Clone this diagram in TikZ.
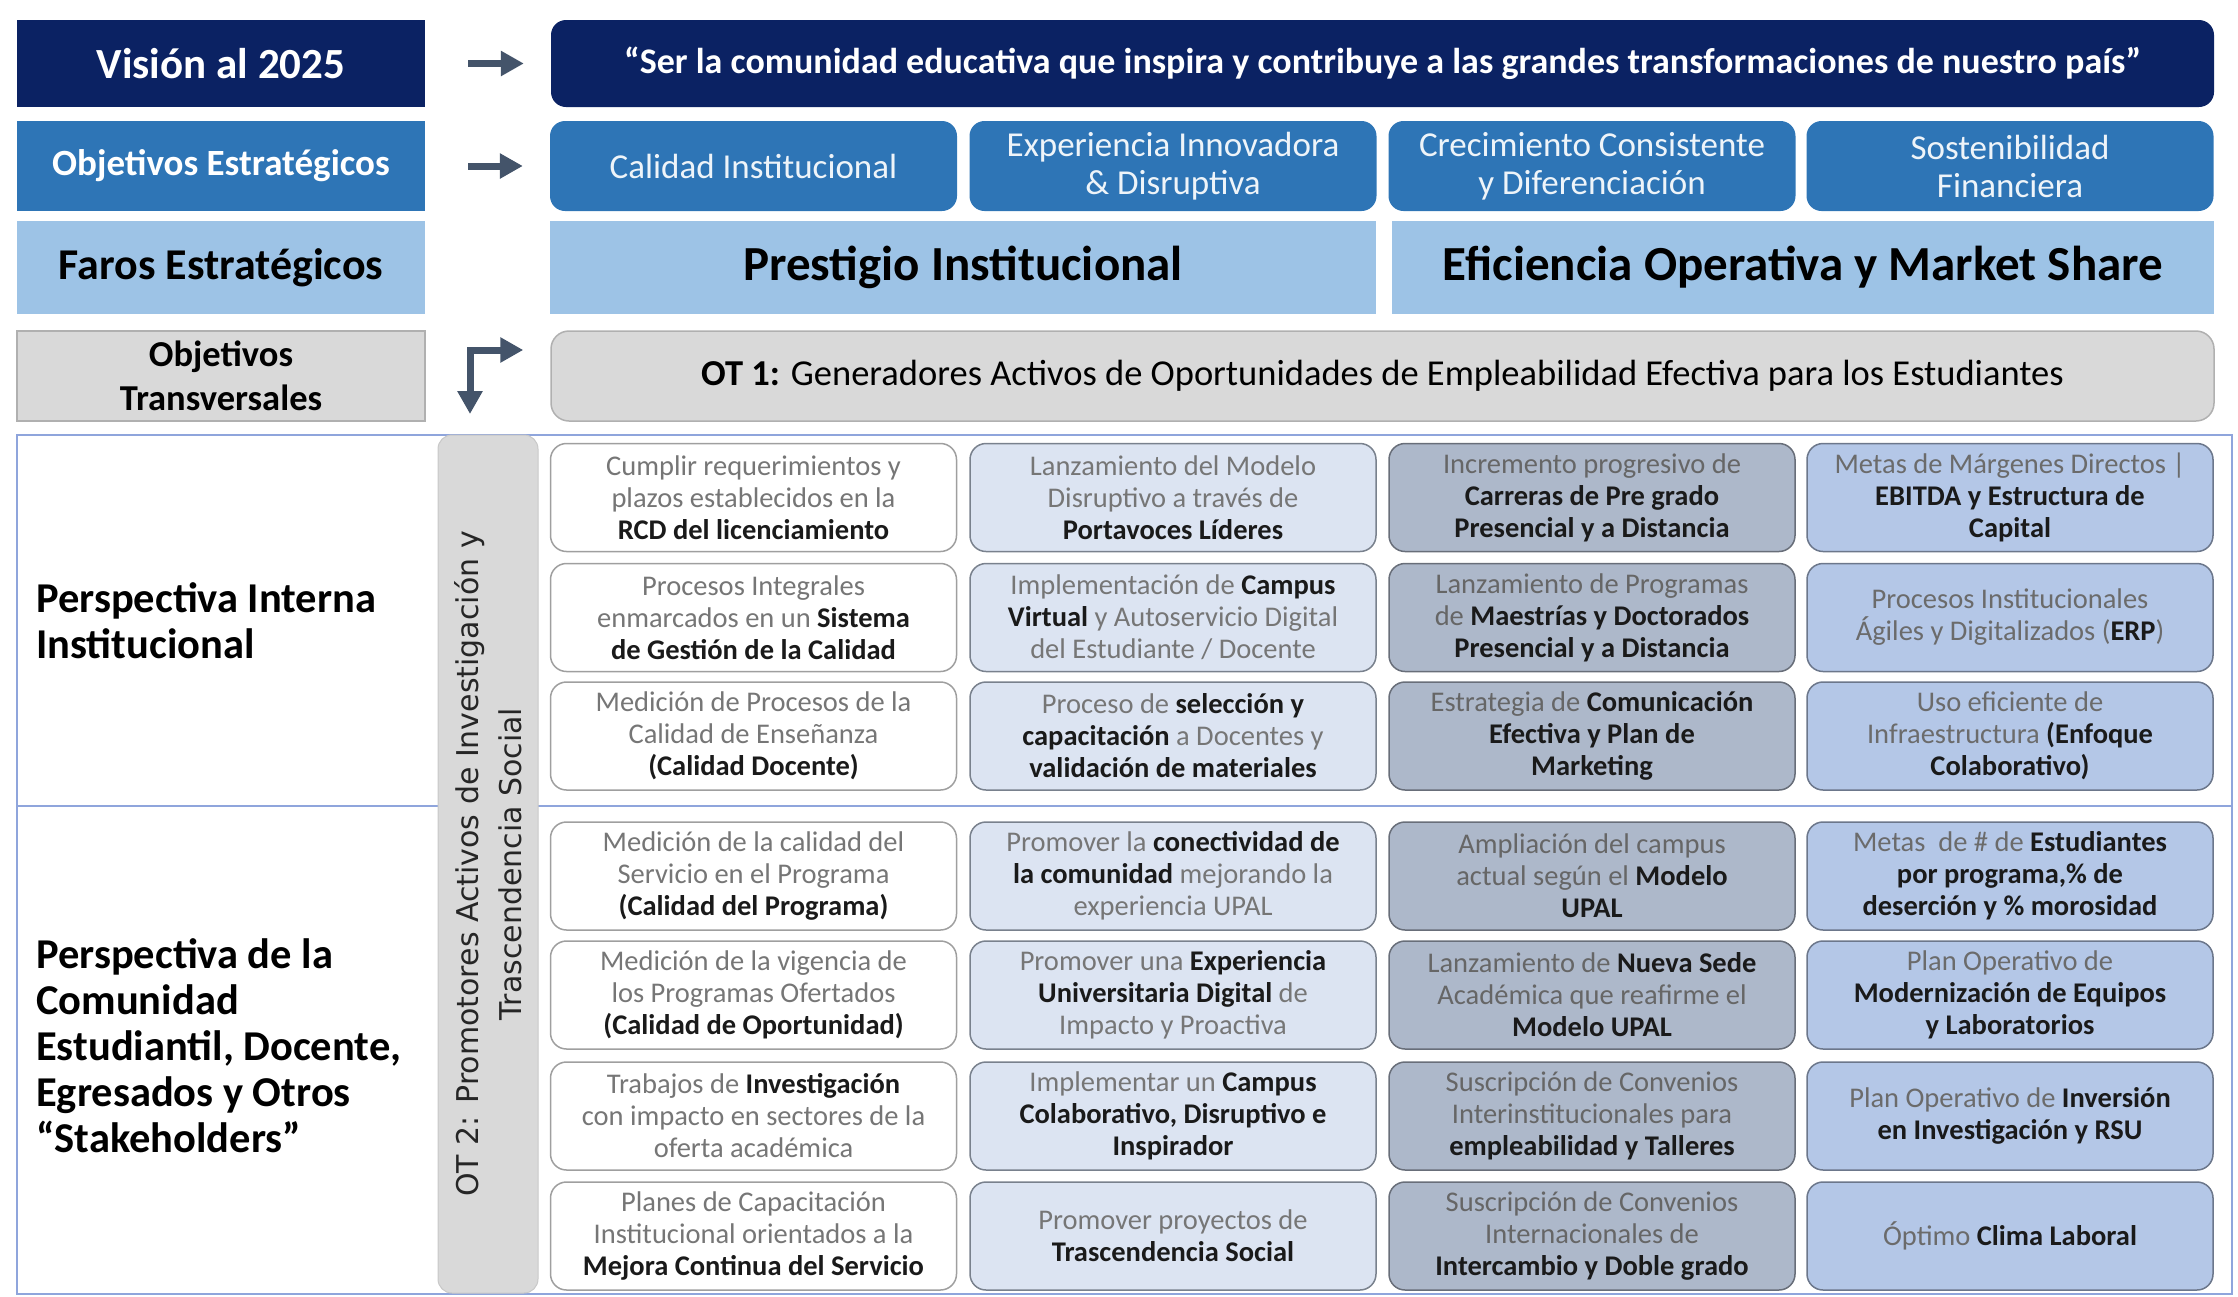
\documentclass[tikz,border=0pt]{standalone}
\usepackage{fontspec}
\setmainfont{Carlito}
\newfontfamily\otfont{DejaVu Sans}
\usetikzlibrary{arrows.meta}

\definecolor{navy}{HTML}{0B2263}
\definecolor{midblue}{HTML}{2E75B6}
\definecolor{skyblue}{HTML}{9DC3E6}
\definecolor{paleGray}{HTML}{D9D9D9}
\definecolor{edgeGray}{HTML}{B0B0B0}
\definecolor{arrowGray}{HTML}{44546A}
\definecolor{frameBlue}{HTML}{8FA5DC}
\definecolor{ink}{HTML}{1A1A1A}
\definecolor{softInk}{HTML}{767676}
\definecolor{cellB}{HTML}{DCE4F2}
\definecolor{cellC}{HTML}{ADB8CA}
\definecolor{cellD}{HTML}{B4C7E7}

\newcommand{\kw}[1]{{\bfseries\color{ink}#1}}

\tikzset{%
    rowlabel/.style={minimum width=408pt, inner sep=0pt, align=center},
    banner/.style={minimum width=1663pt, inner sep=0pt, align=center,
        rounded corners=15pt},
    goal/.style={fill=midblue, text=white!92!midblue, minimum width=407pt,
        minimum height=90pt, inner sep=0pt, align=center, rounded corners=15pt,
        font=\fontsize{35}{38}\selectfont},
    beacon/.style={fill=skyblue, minimum height=93pt, inner sep=0pt,
        font=\fontsize{49}{54}\selectfont\bfseries},
    bigarrow/.style={arrowGray, line width=7pt,
        -{Triangle[length=23pt, width=24pt]}},
    cell/.style={rounded corners=16pt, minimum width=406pt,
        minimum height=108pt, inner sep=0pt, align=center, text=softInk,
        line width=1.5pt, font=\fontsize{28.5}{32}\selectfont},
    cellA/.style={cell, draw=gray!75, fill=white},
    cellB/.style={cell, draw=cellC!70!black, fill=cellB},
    cellC/.style={cell, draw=cellC!60!black, fill=cellC, text=black!60},
    cellD/.style={cell, draw=cellD!60!black, fill=cellD, text=black!58},
    perspective/.style={anchor=west, align=left, inner sep=0pt,
        font=\fontsize{42.5}{46}\selectfont\bfseries}
}

\begin{document}
\begin{tikzpicture}[x=1pt, y=-1pt]

    \useasboundingbox (0, 0) rectangle (2238, 1296);

    %%%%%%%%%%%%
    % Left labels
    \node[rowlabel, fill=navy, text=white, minimum height=87pt,
        font=\fontsize{43}{46}\selectfont\bfseries]
        (vision-lbl) at (221, 63.5) {Visión al 2025};
    \node[rowlabel, fill=midblue, text=white, minimum height=90pt,
        font=\fontsize{37}{40}\selectfont\bfseries]
        (goals-lbl) at (221, 166) {Objetivos Estratégicos};
    \node[rowlabel, fill=skyblue, minimum height=93pt,
        font=\fontsize{44}{48}\selectfont\bfseries]
        (beacons-lbl) at (221, 267.5) {Faros Estratégicos};
    \node[rowlabel, fill=paleGray, draw=edgeGray, line width=1.5pt,
        minimum height=90pt, font=\fontsize{36.5}{44}\selectfont\bfseries]
        (cross-lbl) at (221, 376) {Objetivos\\Transversales};

    %%%%%%%%%%%%
    % Vision
    \node[banner, fill=navy, text=white, minimum height=87pt,
        font=\fontsize{36}{40}\selectfont\bfseries]
        (vision) at (1382.5, 63.5)
        {“Ser la comunidad educativa que inspira y contribuye a las grandes transformaciones de nuestro país”};

    % Strategic goals
    \foreach \i/\xpos/\lab in {%
        1/753.5/{Calidad Institucional},
        2/1173/{Experiencia Innovadora\\\& Disruptiva},
        3/1592/{Crecimiento Consistente\\y Diferenciación},
        4/2010/{Sostenibilidad\\Financiera}%
    }{%
        \node[goal] (goal-\i) at (\xpos, 166) {\lab};
    };

    % Beacons
    \node[beacon, minimum width=826pt] (prestige) at (963, 267.5)
        {Prestigio Institucional};
    \node[beacon, minimum width=822pt] (efficiency) at (1803, 267.5)
        {Eficiencia Operativa y Market Share};

    % OT 1
    \node[banner, fill=paleGray, draw=edgeGray, line width=1.5pt,
        minimum height=90pt, rounded corners=18pt,
        font=\fontsize{36.5}{40}\selectfont]
        (ot1) at (1382.5, 376)
        {\textbf{OT 1:} Generadores Activos de Oportunidades de Empleabilidad Efectiva para los Estudiantes};

    % Arrows
    \draw[bigarrow] ([xshift=43pt] vision-lbl.east) -- ([xshift=-27pt] vision.west);
    \draw[bigarrow] ([xshift=43pt] goals-lbl.east) -- ([xshift=-27pt] goal-1.west);
    \coordinate (bend) at (470, 350);
    \coordinate (bend-down) at (470, 414);
    \draw[bigarrow, line cap=rect] (bend) -- ([xshift=-27pt] ot1.west |- bend);
    \draw[bigarrow] (bend) -- (bend-down);

    %%%%%%%%%%%%
    % Perspectives
    \draw[frameBlue, line width=2.5pt] (17, 435) rectangle (2232, 1294);
    \draw[frameBlue, line width=2.5pt] (17, 806) -- (2232, 806);

    \node[perspective] (internal) at (36, 621)
        {Perspectiva Interna\\Institucional};
    \node[perspective] (community) at (36, 1046)
        {Perspectiva de la\\Comunidad\\Estudiantil, Docente,\\Egresados y Otros\\“Stakeholders”};

    % OT 2
    \node[fill=paleGray, draw=edgeGray!70, line width=1pt, rotate=90,
        rounded corners=14pt, minimum width=858pt, minimum height=100pt,
        inner sep=0pt, align=center, text=black!85,
        font=\otfont\fontsize{30}{43}\selectfont]
        (ot2) at (488, 864)
        {OT 2: Promotores Activos de Investigación y\\Trascendencia Social};

    %%%%%%%%%%%%
    % Internal
    \node[cellA] (c1-r1) at (753.5, 497.5)
        {Cumplir requerimientos y\\plazos establecidos en la\\\kw{RCD del licenciamiento}};
    \node[cellB] (c2-r1) at (1173, 497.5)
        {Lanzamiento del Modelo\\Disruptivo a través de\\\kw{Portavoces Líderes}};
    \node[cellC] (c3-r1) at (1592, 497.5)
        {Incremento progresivo de\\\kw{Carreras de Pre grado}\\\kw{Presencial y a Distancia}};
    \node[cellD] (c4-r1) at (2010, 497.5)
        {Metas de Márgenes Directos |\\\kw{EBITDA y Estructura de}\\\kw{Capital}};

    \node[cellA] (c1-r2) at (753.5, 617.5)
        {Procesos Integrales\\enmarcados en un \kw{Sistema}\\\kw{de Gestión de la Calidad}};
    \node[cellB] (c2-r2) at (1173, 617.5)
        {Implementación de \kw{Campus}\\\kw{Virtual} y Autoservicio Digital\\del Estudiante / Docente};
    \node[cellC] (c3-r2) at (1592, 617.5)
        {Lanzamiento de Programas\\de \kw{Maestrías y Doctorados}\\\kw{Presencial y a Distancia}};
    \node[cellD] (c4-r2) at (2010, 617.5)
        {Procesos Institucionales\\Ágiles y Digitalizados (\kw{ERP})};

    \node[cellA] (c1-r3) at (753.5, 736)
        {Medición de Procesos de la\\Calidad de Enseñanza\\\kw{(Calidad Docente)}};
    \node[cellB] (c2-r3) at (1173, 736)
        {Proceso de \kw{selección y}\\\kw{capacitación} a Docentes y\\\kw{validación de materiales}};
    \node[cellC] (c3-r3) at (1592, 736)
        {Estrategia de \kw{Comunicación}\\\kw{Efectiva y Plan de}\\\kw{Marketing}};
    \node[cellD] (c4-r3) at (2010, 736)
        {Uso eficiente de\\Infraestructura \kw{(Enfoque}\\\kw{Colaborativo)}};

    % Community
    \node[cellA] (c1-r4) at (753.5, 876)
        {Medición de la calidad del\\Servicio en el Programa\\\kw{(Calidad del Programa)}};
    \node[cellB] (c2-r4) at (1173, 876)
        {Promover la \kw{conectividad de}\\\kw{la comunidad} mejorando la\\experiencia UPAL};
    \node[cellC] (c3-r4) at (1592, 876)
        {Ampliación del campus\\actual según el \kw{Modelo}\\\kw{UPAL}};
    \node[cellD] (c4-r4) at (2010, 876)
        {Metas\ \ de \# de \kw{Estudiantes}\\\kw{por programa,\% de}\\\kw{deserción y \% morosidad}};

    \node[cellA] (c1-r5) at (753.5, 995)
        {Medición de la vigencia de\\los Programas Ofertados\\\kw{(Calidad de Oportunidad)}};
    \node[cellB] (c2-r5) at (1173, 995)
        {Promover una \kw{Experiencia}\\\kw{Universitaria Digital} de\\Impacto y Proactiva};
    \node[cellC] (c3-r5) at (1592, 995)
        {Lanzamiento de \kw{Nueva Sede}\\Académica que reafirme el\\\kw{Modelo UPAL}};
    \node[cellD] (c4-r5) at (2010, 995)
        {Plan Operativo de\\\kw{Modernización de Equipos}\\\kw{y Laboratorios}};

    \node[cellA] (c1-r6) at (753.5, 1116)
        {Trabajos de \kw{Investigación}\\con impacto en sectores de la\\oferta académica};
    \node[cellB] (c2-r6) at (1173, 1116)
        {Implementar un \kw{Campus}\\\kw{Colaborativo, Disruptivo e}\\\kw{Inspirador}};
    \node[cellC] (c3-r6) at (1592, 1116)
        {Suscripción de Convenios\\Interinstitucionales para\\\kw{empleabilidad y Talleres}};
    \node[cellD] (c4-r6) at (2010, 1116)
        {Plan Operativo de \kw{Inversión}\\\kw{en Investigación y RSU}};

    \node[cellA] (c1-r7) at (753.5, 1236)
        {Planes de Capacitación\\Institucional orientados a la\\\kw{Mejora Continua del Servicio}};
    \node[cellB] (c2-r7) at (1173, 1236)
        {Promover proyectos de\\\kw{Trascendencia Social}};
    \node[cellC] (c3-r7) at (1592, 1236)
        {Suscripción de Convenios\\Internacionales de\\\kw{Intercambio y Doble grado}};
    \node[cellD] (c4-r7) at (2010, 1236)
        {Óptimo \kw{Clima Laboral}};

\end{tikzpicture}
\end{document}
